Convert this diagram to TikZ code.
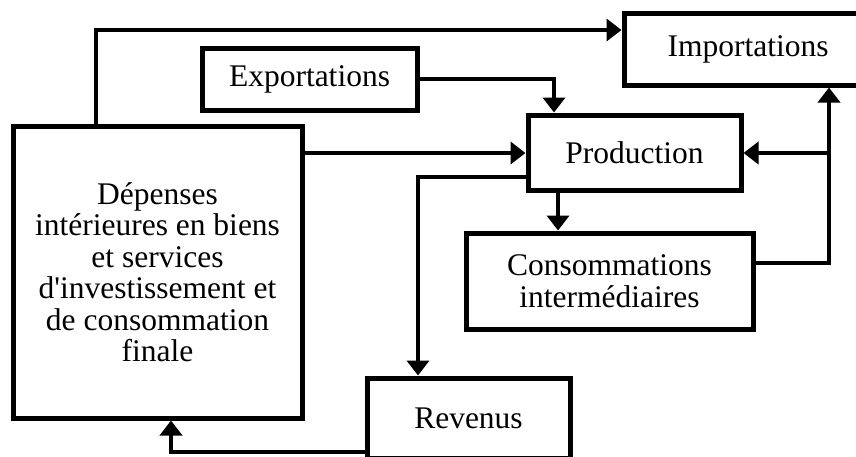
\documentclass[tikz,border=0pt]{standalone}
\usepackage{fontspec}
\setmainfont{Liberation Serif}[Ligatures=TeXOff]
\usetikzlibrary{arrows.meta,calc}
\begin{document}
\begin{tikzpicture}[x=1pt,y=-1pt,
 box/.style={draw,line width=5pt,inner sep=0pt,align=center,font=\fontsize{31.5}{31.5}\selectfont},
 conn/.style={line width=4pt,-{Triangle[width=22pt,length=15pt]}}]
\useasboundingbox (0,0) rectangle (856,456);
\node[box,minimum width=289pt,minimum height=292pt] (dep) at (157.5,272) {Dépenses\\intérieures en biens\\et services\\d'investissement et\\de consommation\\finale};
\node[box,minimum width=215pt,minimum height=62pt] (exp) at (309.5,79) {Exportations};
\node[box,minimum width=213pt,minimum height=75pt] (prod) at (634.5,152.5) {Production};
\node[box,minimum width=287pt,minimum height=96pt] (cons) at (609.5,281) {Consommations\\intermédiaires};
\node[box,minimum width=248pt,minimum height=72pt] (imp) at (748,49) {Importations};
\node[box,minimum width=203pt,minimum height=80pt] (rev) at (468.5,418) {Revenus};
\coordinate (a) at (96,30);
\coordinate (b) at (554,79);
\coordinate (c) at (0,153);
\coordinate (d) at (418,177);
\coordinate (e) at (558,0);
\coordinate (f) at (829,263);
\coordinate (g) at (829,153);
\coordinate (h) at (171,452);
\draw[conn] (a |- dep.north) -- (a) -- (a -| imp.west);
\draw[conn] (exp.east |- b) -- (b) -- (b |- prod.north);
\draw[conn] (dep.east |- c) -- (prod.west |- c);
\draw[conn] (prod.west |- d) -- (d) -- (d |- rev.north);
\draw[conn] (prod.south -| e) -- (cons.north -| e);
\draw[conn] (cons.east |- f) -- (f) -- (f |- imp.south);
\draw[conn] (g) -- (prod.east |- g);
\draw[conn] (rev.west |- h) -- (h) -- (h |- dep.south);
\end{tikzpicture}
\end{document}
